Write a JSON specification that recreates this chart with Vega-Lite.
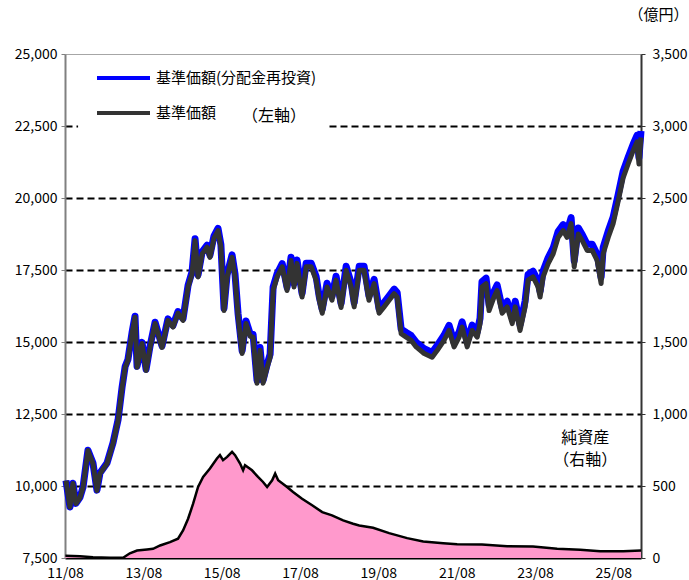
{
  "$schema": "https://vega.github.io/schema/vega-lite/v6.json",
  "width": 576,
  "height": 504,
  "autosize": {"type": "none"},
  "padding": {"left": 65, "top": 54, "right": 48, "bottom": 22},
  "config": {
    "view": {"stroke": "#a6a6a6", "strokeWidth": 1},
    "font": "Noto Sans CJK JP",
    "axis": {"labelFont": "Noto Sans CJK JP", "labelFontSize": 14, "labelColor": "#000000", "titleFont": "Noto Sans CJK JP"},
    "legend": {"labelFont": "Noto Sans CJK JP"},
    "text": {"font": "Noto Sans CJK JP"}
  },
  "datasets": {
    "nav": [
      {"date":"2011-08-10","reinvest":10191,"nav":10190},
      {"date":"2011-09-16","reinvest":9273,"nav":9270},
      {"date":"2011-10-14","reinvest":10094,"nav":10090},
      {"date":"2011-11-11","reinvest":9396,"nav":9390},
      {"date":"2011-12-19","reinvest":9608,"nav":9600},
      {"date":"2012-01-16","reinvest":9959,"nav":9950},
      {"date":"2012-03-02","reinvest":11242,"nav":11230},
      {"date":"2012-04-18","reinvest":10794,"nav":10780},
      {"date":"2012-05-25","reinvest":9856,"nav":9840},
      {"date":"2012-06-22","reinvest":10448,"nav":10430},
      {"date":"2012-08-27","reinvest":10802,"nav":10780},
      {"date":"2012-10-22","reinvest":11505,"nav":11480},
      {"date":"2012-12-08","reinvest":12297,"nav":12270},
      {"date":"2013-01-15","reinvest":13449,"nav":13420},
      {"date":"2013-02-12","reinvest":14151,"nav":14120},
      {"date":"2013-03-10","reinvest":14392,"nav":14360},
      {"date":"2013-04-17","reinvest":15324,"nav":15290},
      {"date":"2013-05-15","reinvest":15896,"nav":15860},
      {"date":"2013-06-03","reinvest":14157,"nav":14120},
      {"date":"2013-07-19","reinvest":14989,"nav":14950},
      {"date":"2013-08-26","reinvest":14052,"nav":14010},
      {"date":"2013-10-02","reinvest":14854,"nav":14810},
      {"date":"2013-11-18","reinvest":15686,"nav":15640},
      {"date":"2014-01-22","reinvest":14860,"nav":14810},
      {"date":"2014-03-18","reinvest":15803,"nav":15750},
      {"date":"2014-05-04","reinvest":15575,"nav":15520},
      {"date":"2014-06-20","reinvest":16058,"nav":16000},
      {"date":"2014-08-06","reinvest":15810,"nav":15750},
      {"date":"2014-09-22","reinvest":16973,"nav":16910},
      {"date":"2014-10-29","reinvest":17435,"nav":17370},
      {"date":"2014-11-26","reinvest":18586,"nav":18520},
      {"date":"2014-12-24","reinvest":17328,"nav":17260},
      {"date":"2015-01-31","reinvest":18130,"nav":18060},
      {"date":"2015-03-17","reinvest":18362,"nav":18290},
      {"date":"2015-04-14","reinvest":18014,"nav":17940},
      {"date":"2015-05-21","reinvest":18676,"nav":18600},
      {"date":"2015-06-28","reinvest":18948,"nav":18870},
      {"date":"2015-07-25","reinvest":18379,"nav":18300},
      {"date":"2015-08-23","reinvest":16171,"nav":16090},
      {"date":"2015-09-21","reinvest":17343,"nav":17260},
      {"date":"2015-11-06","reinvest":18025,"nav":17940},
      {"date":"2015-12-04","reinvest":17347,"nav":17260},
      {"date":"2016-01-01","reinvest":15988,"nav":15900},
      {"date":"2016-02-08","reinvest":14690,"nav":14600},
      {"date":"2016-03-15","reinvest":15732,"nav":15640},
      {"date":"2016-04-22","reinvest":15294,"nav":15200},
      {"date":"2016-05-20","reinvest":15266,"nav":15170},
      {"date":"2016-06-26","reinvest":13668,"nav":13570},
      {"date":"2016-07-24","reinvest":14809,"nav":14710},
      {"date":"2016-08-21","reinvest":13671,"nav":13570},
      {"date":"2016-09-28","reinvest":14223,"nav":14120},
      {"date":"2016-10-26","reinvest":14575,"nav":14470},
      {"date":"2016-11-23","reinvest":16906,"nav":16800},
      {"date":"2016-12-30","reinvest":17368,"nav":17260},
      {"date":"2017-02-16","reinvest":17721,"nav":17610},
      {"date":"2017-04-02","reinvest":16903,"nav":16790},
      {"date":"2017-05-09","reinvest":17945,"nav":17830},
      {"date":"2017-06-06","reinvest":17027,"nav":16910},
      {"date":"2017-07-04","reinvest":17849,"nav":17730},
      {"date":"2017-08-20","reinvest":16681,"nav":16560},
      {"date":"2017-09-27","reinvest":17733,"nav":17610},
      {"date":"2017-11-13","reinvest":17735,"nav":17610},
      {"date":"2017-12-29","reinvest":17276,"nav":17150},
      {"date":"2018-01-27","reinvest":16578,"nav":16450},
      {"date":"2018-02-24","reinvest":16129,"nav":16000},
      {"date":"2018-04-10","reinvest":17041,"nav":16910},
      {"date":"2018-05-26","reinvest":16582,"nav":16450},
      {"date":"2018-07-03","reinvest":17284,"nav":17150},
      {"date":"2018-08-19","reinvest":16336,"nav":16200},
      {"date":"2018-10-05","reinvest":17628,"nav":17490},
      {"date":"2018-11-21","reinvest":17050,"nav":16910},
      {"date":"2018-12-19","reinvest":16361,"nav":16220},
      {"date":"2019-02-04","reinvest":17632,"nav":17490},
      {"date":"2019-03-21","reinvest":17634,"nav":17490},
      {"date":"2019-05-06","reinvest":16597,"nav":16450},
      {"date":"2019-06-23","reinvest":17178,"nav":17030},
      {"date":"2019-08-08","reinvest":16150,"nav":16000},
      {"date":"2019-09-24","reinvest":16372,"nav":16220},
      {"date":"2019-11-10","reinvest":16604,"nav":16450},
      {"date":"2019-12-27","reinvest":16836,"nav":16680},
      {"date":"2020-01-24","reinvest":16717,"nav":16560},
      {"date":"2020-03-01","reinvest":15449,"nav":15290},
      {"date":"2020-04-17","reinvest":15331,"nav":15170},
      {"date":"2020-06-02","reinvest":15223,"nav":15060},
      {"date":"2020-07-19","reinvest":14995,"nav":14830},
      {"date":"2020-10-02","reinvest":14768,"nav":14600},
      {"date":"2020-12-15","reinvest":14641,"nav":14470},
      {"date":"2021-02-01","reinvest":14883,"nav":14710},
      {"date":"2021-04-05","reinvest":15235,"nav":15060},
      {"date":"2021-05-22","reinvest":15577,"nav":15400},
      {"date":"2021-07-08","reinvest":15009,"nav":14830},
      {"date":"2021-08-24","reinvest":15351,"nav":15170},
      {"date":"2021-09-21","reinvest":15702,"nav":15520},
      {"date":"2021-11-07","reinvest":15013,"nav":14830},
      {"date":"2021-12-23","reinvest":15584,"nav":15400},
      {"date":"2022-02-09","reinvest":15355,"nav":15170},
      {"date":"2022-03-07","reinvest":15826,"nav":15640},
      {"date":"2022-03-25","reinvest":17097,"nav":16910},
      {"date":"2022-05-02","reinvest":17218,"nav":17030},
      {"date":"2022-05-30","reinvest":16278,"nav":16090},
      {"date":"2022-07-15","reinvest":16750,"nav":16560},
      {"date":"2022-08-13","reinvest":16980,"nav":16790},
      {"date":"2022-09-29","reinvest":16191,"nav":16000},
      {"date":"2022-11-15","reinvest":16413,"nav":16220},
      {"date":"2023-01-01","reinvest":15834,"nav":15640},
      {"date":"2023-01-29","reinvest":16415,"nav":16220},
      {"date":"2023-03-15","reinvest":15596,"nav":15400},
      {"date":"2023-05-01","reinvest":16417,"nav":16220},
      {"date":"2023-05-29","reinvest":17348,"nav":17150},
      {"date":"2023-07-14","reinvest":17459,"nav":17260},
      {"date":"2023-08-30","reinvest":17111,"nav":16910},
      {"date":"2023-09-18","reinvest":16761,"nav":16560},
      {"date":"2023-10-16","reinvest":17462,"nav":17260},
      {"date":"2023-12-02","reinvest":17923,"nav":17720},
      {"date":"2024-01-18","reinvest":18265,"nav":18060},
      {"date":"2024-03-04","reinvest":18836,"nav":18630},
      {"date":"2024-04-20","reinvest":19077,"nav":18870},
      {"date":"2024-05-27","reinvest":18838,"nav":18630},
      {"date":"2024-07-03","reinvest":19319,"nav":19110},
      {"date":"2024-08-01","reinvest":17820,"nav":17610},
      {"date":"2024-09-08","reinvest":18961,"nav":18750},
      {"date":"2024-10-15","reinvest":18732,"nav":18520},
      {"date":"2024-11-30","reinvest":18393,"nav":18180},
      {"date":"2025-01-16","reinvest":18395,"nav":18180},
      {"date":"2025-03-03","reinvest":18046,"nav":17830},
      {"date":"2025-04-09","reinvest":17247,"nav":17030},
      {"date":"2025-04-28","reinvest":18277,"nav":18060},
      {"date":"2025-06-14","reinvest":18849,"nav":18630},
      {"date":"2025-07-30","reinvest":19330,"nav":19110},
      {"date":"2025-09-16","reinvest":20132,"nav":19910},
      {"date":"2025-11-01","reinvest":20934,"nav":20710},
      {"date":"2025-12-17","reinvest":21405,"nav":21180},
      {"date":"2026-02-03","reinvest":21877,"nav":21650},
      {"date":"2026-03-10","reinvest":22178,"nav":21950},
      {"date":"2026-03-28","reinvest":21409,"nav":21180},
      {"date":"2026-04-16","reinvest":22330,"nav":22100}
    ],
    "assets": [
      {"date":"2011-08-05","value":15},
      {"date":"2011-12-19","value":12},
      {"date":"2012-04-18","value":5},
      {"date":"2012-09-24","value":2},
      {"date":"2013-01-24","value":2},
      {"date":"2013-03-28","value":33},
      {"date":"2013-06-03","value":52},
      {"date":"2013-09-04","value":59},
      {"date":"2013-10-30","value":64},
      {"date":"2014-01-04","value":87},
      {"date":"2014-04-06","value":110},
      {"date":"2014-06-20","value":134},
      {"date":"2014-08-06","value":191},
      {"date":"2014-09-22","value":273},
      {"date":"2014-11-08","value":377},
      {"date":"2014-12-24","value":493},
      {"date":"2015-02-09","value":563},
      {"date":"2015-04-14","value":621},
      {"date":"2015-06-18","value":691},
      {"date":"2015-07-16","value":714},
      {"date":"2015-08-14","value":679},
      {"date":"2015-09-21","value":702},
      {"date":"2015-11-06","value":737},
      {"date":"2015-12-04","value":714},
      {"date":"2016-01-20","value":656},
      {"date":"2016-02-17","value":609},
      {"date":"2016-03-06","value":644},
      {"date":"2016-05-10","value":609},
      {"date":"2016-07-05","value":563},
      {"date":"2016-08-21","value":528},
      {"date":"2016-09-28","value":493},
      {"date":"2016-11-14","value":540},
      {"date":"2016-12-12","value":586},
      {"date":"2017-01-09","value":540},
      {"date":"2017-04-02","value":493},
      {"date":"2017-05-28","value":458},
      {"date":"2017-08-20","value":412},
      {"date":"2017-11-22","value":366},
      {"date":"2018-02-24","value":319},
      {"date":"2018-05-26","value":296},
      {"date":"2018-09-07","value":261},
      {"date":"2018-12-09","value":238},
      {"date":"2019-02-04","value":226},
      {"date":"2019-06-13","value":210},
      {"date":"2019-11-10","value":173},
      {"date":"2020-04-26","value":138},
      {"date":"2020-09-23","value":115},
      {"date":"2021-03-29","value":103},
      {"date":"2021-08-05","value":96},
      {"date":"2022-03-25","value":94},
      {"date":"2022-11-15","value":82},
      {"date":"2023-07-14","value":80},
      {"date":"2024-02-24","value":64},
      {"date":"2024-09-26","value":57},
      {"date":"2025-03-31","value":47},
      {"date":"2025-11-01","value":47},
      {"date":"2026-04-16","value":52}
    ]
  },
  "layer": [
    {
      "layer": [
        {
          "data": {"name": "assets"},
          "mark": {"type": "area", "fill": "#FF99CC", "fillOpacity": 1, "line": {"color": "#000000", "strokeWidth": 2.5}},
          "encoding": {
            "x": {"field": "date", "type": "temporal", "scale": {"type": "utc", "domain": [{"year": 2011, "month": 8, "date": 1, "utc": true}, {"year": 2026, "month": 4, "date": 16, "utc": true}]}},
            "y": {
              "field": "value", "type": "quantitative",
              "scale": {"domain": [0, 3500], "nice": false, "zero": true},
              "axis": {
                "orient": "right", "values": [0, 500, 1000, 1500, 2000, 2500, 3000, 3500], "format": ",.0f",
                "grid": false, "domainColor": "#333333", "domainWidth": 2, "tickColor": "#333333", "tickSize": 4,
                "labelPadding": 7, "labelFontSize": 14,
                "title": "（億円）", "titleAngle": 0, "titleX": 47, "titleY": -40, "titleAlign": "right", "titleBaseline": "middle",
                "titleFontWeight": "normal", "titleFontSize": 15, "titleColor": "#000000"
              }
            }
          }
        },
        {
          "data": {"values": [
            {"date": "2024-11-13", "value": 832, "label": "純資産"},
            {"date": "2024-11-13", "value": 679, "label": "（右軸）"}
          ]},
          "mark": {"type": "text", "fontSize": 16, "color": "#000000", "align": "center", "baseline": "middle"},
          "encoding": {
            "x": {"field": "date", "type": "temporal"},
            "y": {"field": "value", "type": "quantitative", "scale": {"domain": [0, 3500], "nice": false}},
            "text": {"field": "label"}
          }
        }
      ]
    },
    {
      "layer": [
        {
          "data": {"values": [{"date": "2011-12-01", "date2": "2018-04-10", "value": 22150, "value2": 24650}]},
          "mark": {"type": "rect", "fill": "#ffffff"},
          "encoding": {
            "x": {"field": "date", "type": "temporal"},
            "x2": {"field": "date2"},
            "y": {"field": "value", "type": "quantitative", "scale": {"domain": [7500, 25000], "nice": false, "zero": false}},
            "y2": {"field": "value2"}
          }
        },
        {
          "data": {"name": "nav"},
          "mark": {"type": "line", "strokeWidth": 7, "strokeJoin": "round"},
          "encoding": {
            "x": {
              "field": "date", "type": "temporal",
              "axis": {
                "title": null, "grid": false, "format": "%y/%m", "labelFlush": false, "labelOverlap": false,
                "values": [
                  {"year": 2011, "month": 8, "date": 1, "utc": true},
                  {"year": 2013, "month": 8, "date": 1, "utc": true},
                  {"year": 2015, "month": 8, "date": 1, "utc": true},
                  {"year": 2017, "month": 8, "date": 1, "utc": true},
                  {"year": 2019, "month": 8, "date": 1, "utc": true},
                  {"year": 2021, "month": 8, "date": 1, "utc": true},
                  {"year": 2023, "month": 8, "date": 1, "utc": true},
                  {"year": 2025, "month": 8, "date": 1, "utc": true}
                ],
                "domainColor": "#000000", "domainWidth": 2, "tickColor": "#000000", "tickSize": -4, "tickWidth": 1,
                "labelPadding": 12, "labelFontSize": 14, "labelBaseline": "top"
              }
            },
            "y": {
              "field": "reinvest", "type": "quantitative",
              "scale": {"domain": [7500, 25000], "nice": false, "zero": false},
              "axis": {
                "orient": "left", "values": [7500, 10000, 12500, 15000, 17500, 20000, 22500, 25000], "format": ",.0f",
                "title": null, "grid": true, "gridColor": "#000000", "gridDash": [7, 4], "gridWidth": 2,
                "gridOpacity": {"condition": {"test": "datum.value === 25000 || datum.value === 7500", "value": 0}, "value": 1},
                "domainColor": "#808080", "domainWidth": 2, "tickColor": "#808080", "tickSize": 4,
                "labelPadding": 4, "labelFontSize": 14
              }
            },
            "color": {
              "datum": "基準価額(分配金再投資)", "type": "nominal",
              "scale": {"domain": ["基準価額(分配金再投資)", "基準価額"], "range": ["#0000FF", "#333333"]},
              "legend": {
                "orient": "none", "legendX": 30, "legendY": 14, "title": null, "padding": 0,
                "symbolType": "stroke", "symbolSize": 2809, "symbolStrokeWidth": 4,
                "clipHeight": 20, "rowPadding": 15, "labelOffset": 4, "labelFontSize": 15, "labelLimit": 400, "labelColor": "#000000"
              }
            }
          }
        },
        {
          "data": {"name": "nav"},
          "mark": {"type": "line", "strokeWidth": 5, "strokeJoin": "round"},
          "encoding": {
            "x": {"field": "date", "type": "temporal"},
            "y": {"field": "nav", "type": "quantitative", "scale": {"domain": [7500, 25000], "nice": false, "zero": false}},
            "color": {"datum": "基準価額", "type": "nominal"}
          }
        },
        {
          "data": {"values": [{"date": "2016-12-02", "value": 22864, "label": "（左軸）"}]},
          "mark": {"type": "text", "fontSize": 16, "color": "#000000", "align": "center", "baseline": "middle"},
          "encoding": {
            "x": {"field": "date", "type": "temporal"},
            "y": {"field": "value", "type": "quantitative", "scale": {"domain": [7500, 25000], "nice": false, "zero": false}},
            "text": {"field": "label"}
          }
        }
      ]
    }
  ],
  "resolve": {"scale": {"y": "independent"}}
}
